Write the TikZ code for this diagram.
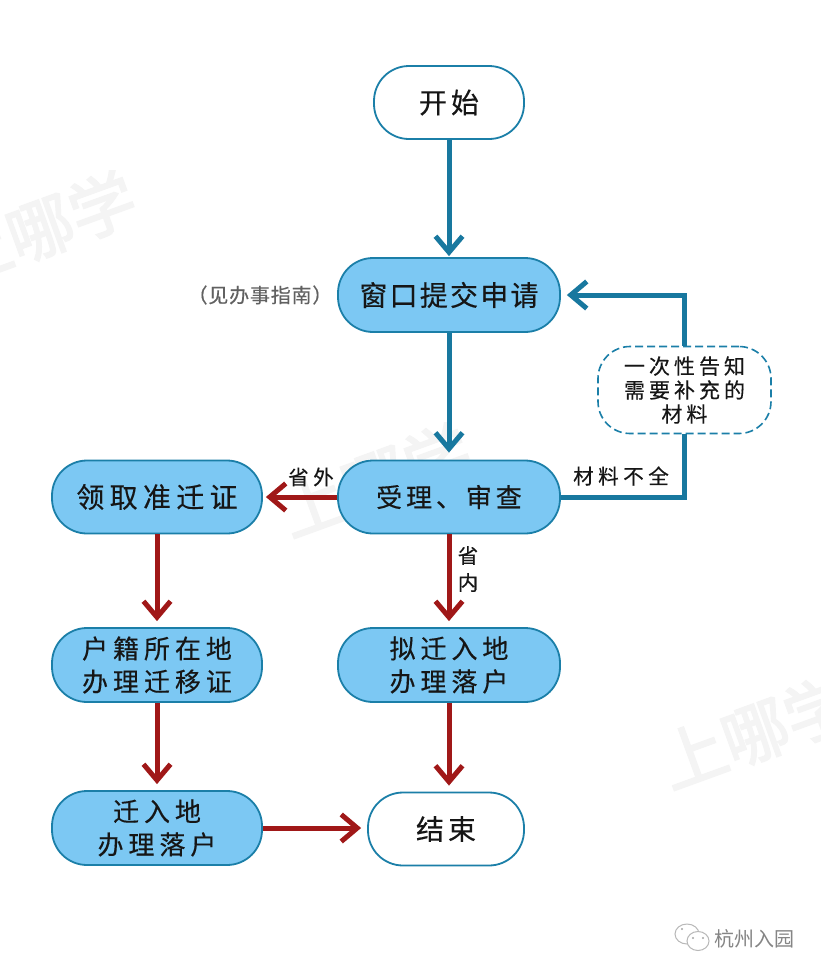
\documentclass[tikz,border=0pt]{standalone}
\usepackage{fontspec}
\setmainfont{Noto Sans CJK SC}
\usetikzlibrary{arrows.meta}
\definecolor{boxfill}{HTML}{7CC8F3}
\definecolor{boxline}{HTML}{1B7FA8}
\definecolor{flowblue}{HTML}{18789F}
\definecolor{flowred}{HTML}{A01818}
\definecolor{inktext}{HTML}{161616}
\definecolor{wm}{HTML}{F4F4F4}
\newcommand{\zh}[3]{\fontsize{#1}{#2}\selectfont\addfontfeature{LetterSpace=#3,FakeBold=0.35}}
\tikzset{
  x=1pt,y=-1pt,
  pill/.style={draw=boxline,line width=1.8pt,rounded corners=35pt,inner sep=0pt,align=center,text=inktext,font=\zh{26}{33}{19}},
  bluepill/.style={pill,fill=boxfill},
  whitepill/.style={pill,fill=white},
  notebox/.style={draw=boxline,line width=1.6pt,dash pattern=on 8pt off 4pt,fill=white,rounded corners=32pt,minimum width=173pt,minimum height=87pt,inner sep=0pt,align=center,text=inktext,font=\zh{21}{24}{19}},
  lbl/.style={inner sep=0pt,text=inktext,font=\zh{20.5}{27}{22},align=center},
  flow/.style={line width=5pt,-{Straight Barb[length=16pt,width=27pt,line width=5pt]}},
  plain/.style={line width=5pt},
  bluef/.style={draw=flowblue},
  redf/.style={draw=flowred},
  mark wm/.style={inner sep=0pt,text=wm,font=\fontsize{66}{66}\selectfont\addfontfeature{FakeBold=2.5}},
}
\begin{document}
\begin{tikzpicture}
\useasboundingbox (0,0) rectangle (820,975);
\fill[white] (0,0) rectangle (820,975);
% watermarks
\node[mark wm,rotate=20] (wa) at (40,228) {上哪学};
\node[mark wm,rotate=20] (wb) at (375,480) {上哪学};
\node[mark wm,rotate=20] (wc) at (755,732) {上哪学};
% nodes
\node[whitepill,minimum width=150pt,minimum height=73pt,font=\zh{28}{33}{14}] (start) at (449,102.5) {开始};
\node[bluepill,minimum width=222pt,minimum height=74pt,font=\zh{28}{33}{8}] (apply) at (449,295) {窗口提交申请};
\node[bluepill,minimum width=222pt,minimum height=73pt,font=\zh{26}{33}{15}] (review) at (449,497) {受理、审查};
\node[bluepill,minimum width=210pt,minimum height=73pt,font=\zh{28}{33}{19}] (get) at (157,497) {领取准迁证};
\node[bluepill,minimum width=210pt,minimum height=74pt] (huji) at (157,665) {户籍所在地\\办理迁移证};
\node[bluepill,minimum width=222pt,minimum height=74pt] (local) at (449,665) {拟迁入地\\办理落户};
\node[bluepill,minimum width=210pt,minimum height=74pt] (moved) at (157,828) {迁入地\\办理落户};
\node[whitepill,minimum width=156pt,minimum height=73pt,font=\zh{28}{33}{14}] (end) at (446,829) {结束};
\node[notebox] (note) at (684.5,390) {一次性告知\\需要补充的\\材料};
% labels
\node[lbl,text=black!62,font=\zh{20}{24}{4}] (guide) at (260,295) {（见办事指南）};
\node[lbl] (outp) at (311,477) {省外};
\node[lbl] (inp) at (468,569) {省\\内};
\node[lbl] (lack) at (621,476) {材料不全};
% connectors
\draw[flow,bluef,shorten >=1pt] (start) -- (apply);
\draw[flow,bluef,shorten >=7pt] (apply) -- (review);
\draw[plain,bluef] (review.east) -| (note.south);
\draw[flow,bluef,shorten >=6pt] (note.north) |- (apply.east);
\draw[flow,redf,shorten >=3pt] (review.west) -- (get.east);
\draw[flow,redf,shorten >=6pt] (review) -- (local);
\draw[flow,redf,shorten >=6pt] (get) -- (huji);
\draw[flow,redf,shorten >=6pt] (huji) -- (moved);
\draw[flow,redf,shorten >=6pt] (local) -- (end.north -| local);
\draw[flow,redf,shorten >=6pt] (moved.east) -- (end.west |- moved.east);
% footer mark
\draw[black!28,line width=1pt,fill=white] (687,934) ellipse (12 and 10);
\draw[black!28,line width=1pt,fill=white] (698,941) ellipse (11 and 9.5);
\fill[black!35] (693,938) circle (1.2) (703,938) circle (1.2) (682,929) circle (1.2);
\node[inner sep=0pt,text=black!48,font=\fontsize{20}{20}\selectfont] (brand) at (754,939) {杭州入园};
\end{tikzpicture}
\end{document}
